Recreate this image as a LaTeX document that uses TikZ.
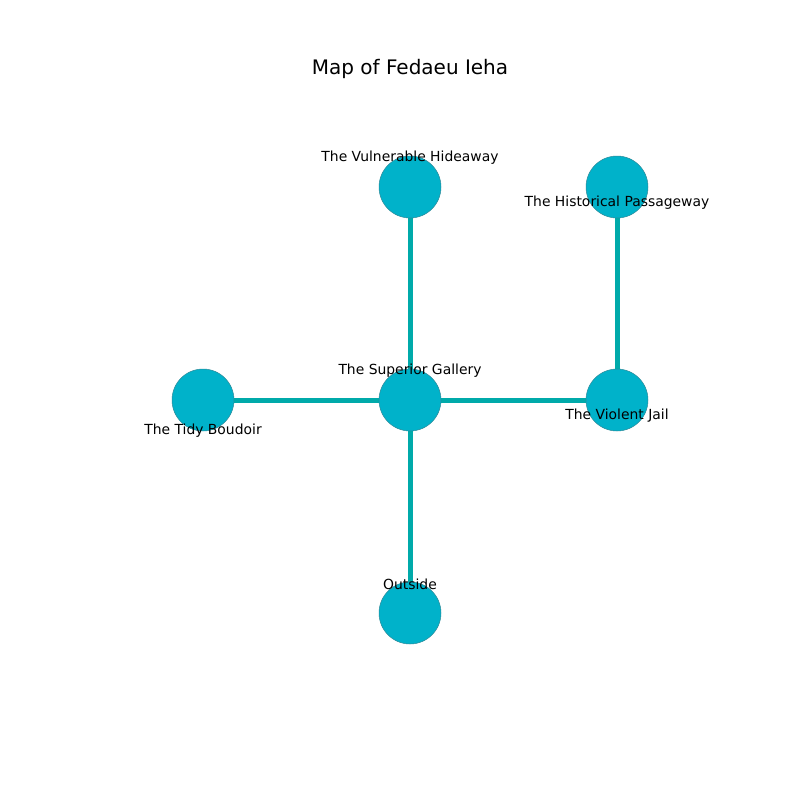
\documentclass[tikz,border=0pt]{standalone}
\usepackage{fontspec}
\setmainfont{DejaVu Sans}
\usetikzlibrary{backgrounds}
\definecolor{nodefill}{HTML}{00B2CA}
\definecolor{nodeedge}{HTML}{2E8A99}
\definecolor{edgecol}{HTML}{00AAAA}
\begin{document}
\begin{tikzpicture}[x=1pt,y=-1pt,
  room/.style={circle,fill=nodefill,draw=nodeedge,line width=0.5pt,minimum size=62pt,inner sep=0pt},
  link/.style={edgecol,line width=5pt},
  lbl/.style={font=\fontsize{13.9}{16}\selectfont,inner sep=0pt,text=black},
  ttl/.style={font=\fontsize{20}{24}\selectfont,inner sep=0pt}]
\useasboundingbox (0,0) rectangle (800,800);
\node[ttl] (title) at (410,68.5) {Map of Fedaeu Ieha};
\node[room] (vh) at (410,187) {};
\node[room] (hp) at (617,187) {};
\node[room] (tb) at (203,400) {};
\node[room] (sg) at (410,400) {};
\node[room] (vj) at (617,400) {};
\node[room] (out) at (410,613) {};
\begin{scope}[on background layer]
\fill[white] (0,0) rectangle (800,800);
\draw[link] (vh.center) -- (sg.center);
\draw[link] (hp.center) -- (vj.center);
\draw[link] (tb.center) -- (sg.center);
\draw[link] (sg.center) -- (vj.center);
\draw[link] (sg.center) -- (out.center);
\end{scope}
\node[lbl] (lvh) at (410,158) {The Vulnerable Hideaway};
\node[lbl] (lhp) at (617,203) {The Historical Passageway};
\node[lbl] (ltb) at (203,431) {The Tidy Boudoir};
\node[lbl] (lsg) at (410,371) {The Superior Gallery};
\node[lbl] (lvj) at (617,416) {The Violent Jail};
\node[lbl] (lout) at (410,584) {Outside};
\end{tikzpicture}
\end{document}
